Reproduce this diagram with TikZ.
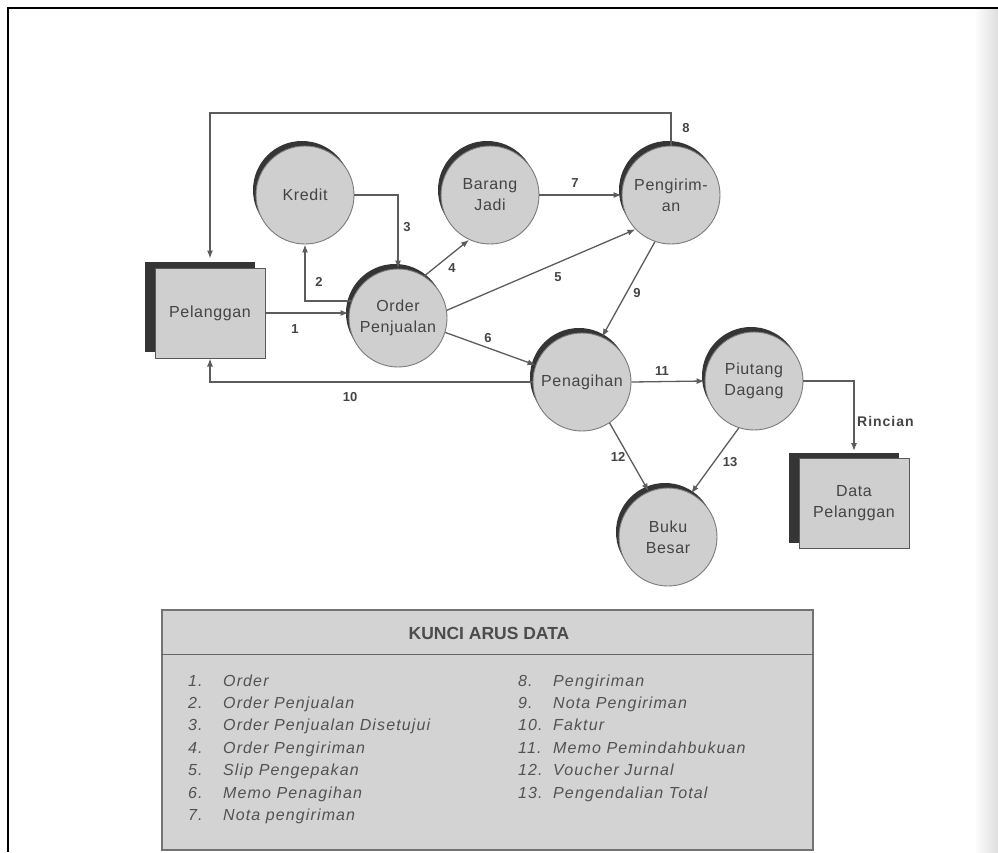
\documentclass[tikz,border=0pt]{standalone}
\usepackage{fontspec}
\setmainfont{Liberation Sans}
\newfontfamily\nodefont[LetterSpace=4]{Liberation Sans}
\newfontfamily\keyfont[LetterSpace=7]{Liberation Sans}
\usetikzlibrary{arrows.meta,shadows}

\definecolor{procfill}{HTML}{CFCFCF}
\definecolor{procedge}{HTML}{7A7A7A}
\definecolor{moon}{HTML}{353535}
\definecolor{flowline}{HTML}{5C5C5C}
\definecolor{inktext}{HTML}{444444}
\definecolor{keyfill}{HTML}{D3D3D3}

\tikzset{
  proc/.style={circle, minimum size=98pt, inner sep=0pt, fill=procfill,
    draw=procedge, line width=0.9pt, align=center, text=inktext,
    font=\nodefont\fontsize{16}{21}\selectfont,
    general shadow={fill=moon, shadow xshift=-3pt, shadow yshift=5pt}},
  entity/.style={rectangle, minimum width=110pt, minimum height=90pt,
    inner sep=0pt, fill=procfill, draw=black!65, line width=1pt,
    align=center, text=inktext,
    font=\nodefont\fontsize{16}{21}\selectfont,
    general shadow={fill=moon, shadow xshift=-10pt, shadow yshift=6pt}},
  flow/.style={draw=flowline, line width=1.3pt, -{Latex[length=8pt,width=6pt]}},
  num/.style={font=\bfseries\fontsize{13}{15}\selectfont, text=inktext, inner sep=1pt},
  keyitem/.style={anchor=base west, inner sep=0pt,
    font=\keyfont\itshape\fontsize{16}{18}\selectfont, text=black!68},
}

\begin{document}
\begin{tikzpicture}[x=1pt,y=-1pt]
\useasboundingbox (0,0) rectangle (998,852);
\fill[white] (0,0) rectangle (998,852);
% page edge and frame
\shade[left color=white, right color=black!13] (974,9) rectangle (998,852);
\draw[line width=2pt] (8,852) -- (8,8) -- (998,8);

% external entities
\node (pel) [entity] at (210,313) {Pelanggan};
\node (dp)  [entity] at (854,503.5) {Data\\Pelanggan};

% processes / files
\node (kr) [proc] at (305,195) {Kredit};
\node (bj) [proc] at (490,195) {Barang\\Jadi};
\node (pg) [proc] at (671,195) {Pengirim-\\an};
\node (op) [proc] at (398,318) {Order\\Penjualan};
\node (pn) [proc] at (582,382) {Penagihan};
\node (pd) [proc] at (754,381) {Piutang\\Dagang};
\node (bb) [proc] at (668,537) {Buku\\Besar};

% data flows
\coordinate (t8) at (210,113);
\draw[flow] (pel.east) -- (pel.east -| op.west);
\draw[flow] (op.160) -| (kr.south);
\draw[flow] (kr.east) -| (op.north);
\draw[flow] (op.58) -- (bj.245);
\draw[flow] (op.9) -- (pg.224);
\draw[flow] (op.343) -- (pn.160);
\draw[flow] (bj.east) -- (pg.west);
\draw[flow, shorten >=9pt] (pg.north) |- (t8) -- (pel.north);
\draw[flow] (pg.251) -- (pn.66);
\draw[flow] (pn.west) -| (pel.south);
\draw[flow] (pn.east) -- (pd.west);
\draw[flow] (pn.304) -- (bb.113);
\draw[flow] (pd.252) -- (bb.62);
\draw[flow, shorten >=7pt] (pd.east) -| (dp.north);

% flow numbers
\node (l1)  [num] at (295,329) {1};
\node (l2)  [num] at (319,282) {2};
\node (l3)  [num] at (407,227) {3};
\node (l4)  [num] at (452,268) {4};
\node (l5)  [num] at (558,277) {5};
\node (l6)  [num] at (488,338) {6};
\node (l7)  [num] at (575,183) {7};
\node (l8)  [num] at (686,128) {8};
\node (l9)  [num] at (637,293) {9};
\node (l10) [num] at (350,397) {10};
\node (l11) [num] at (662,371) {11};
\node (l12) [num] at (618,457) {12};
\node (l13) [num] at (730,462) {13};
\node (lr)  [anchor=west, inner sep=0pt, text=inktext,
  font=\keyfont\bfseries\fontsize{14}{16}\selectfont] at (857,421) {Rincian};

% key to the data flows
\node (key) [draw=black!55, line width=1.2pt, fill=keyfill,
  minimum width=651pt, minimum height=240pt, inner sep=0pt] at (487.5,730) {};
\draw[black!60, line width=1.6pt] ([yshift=-45pt]key.north west) -- ([yshift=-45pt]key.north east);
\node (keyhead) [font=\bfseries\fontsize{17.5}{20}\selectfont, text=black!70] at (489,633) {KUNCI ARUS DATA};

\foreach \t [count=\i] in {Order, Order Penjualan, Order Penjualan Disetujui,
    Order Pengiriman, Slip Pengepakan, Memo Penagihan, Nota pengiriman} {
  \pgfmathsetmacro{\yy}{686+22.4*(\i-1)}
  \node (kn\i) [keyitem] at (188,\yy) {\i.};
  \node (kt\i) [keyitem] at (223,\yy) {\t};
}
\foreach \t [count=\i from 8] in {Pengiriman, Nota Pengiriman, Faktur,
    Memo Pemindahbukuan, Voucher Jurnal, Pengendalian Total} {
  \pgfmathsetmacro{\yy}{686+22.4*(\i-8)}
  \node (kn\i) [keyitem] at (518,\yy) {\i.};
  \node (kt\i) [keyitem] at (553,\yy) {\t};
}
\end{tikzpicture}
\end{document}
